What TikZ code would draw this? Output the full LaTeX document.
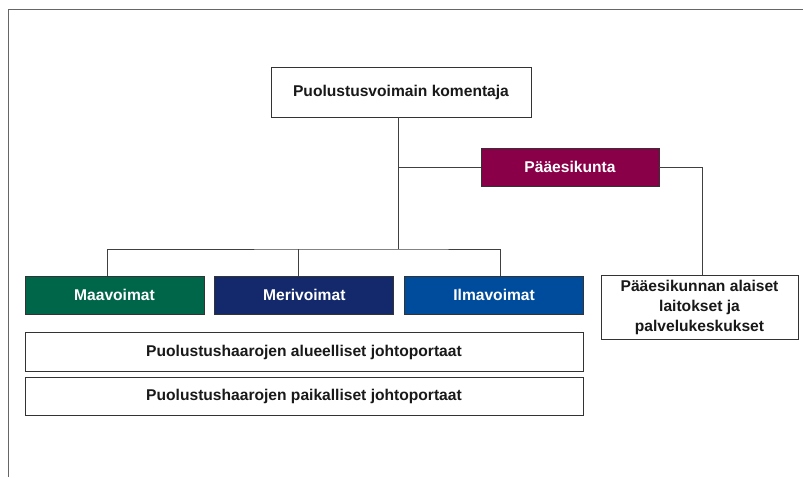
\documentclass[tikz,border=0pt]{standalone}
\usepackage{fontspec}
\setmainfont{Liberation Sans}
\usetikzlibrary{positioning}
\definecolor{pemaroon}{HTML}{8A0048}
\definecolor{maagreen}{HTML}{00664A}
\definecolor{merinavy}{HTML}{13296C}
\definecolor{ilmablue}{HTML}{004C9C}

\begin{document}
\begin{tikzpicture}[x=1pt,y=-1pt,font=\bfseries\fontsize{15.6}{20}\selectfont,
  unit/.style={draw=black!80,line width=0.8pt,align=center,inner sep=0pt,minimum width=179pt,minimum height=38pt,text=white},
  plain/.style={unit,fill=white,text=black!90},
  ln/.style={draw=black!75,line width=0.8pt}]
\useasboundingbox (0,0) rectangle (803,477);
\draw[black!60,line width=0.9pt] (8,477) |- (803,9);
% command chain
\node[plain,minimum width=260pt,minimum height=50pt] (cmdr) at (401,92) {Puolustusvoimain komentaja};
\node[unit,fill=pemaroon,minimum width=178pt] (pe) at (570,167) {Pääesikunta};
\node[plain,minimum width=197pt,minimum height=64pt] (laitokset) at (699.5,307) {Pääesikunnan alaiset\\laitokset ja\\palvelukeskukset};
% branches
\node[unit,fill=maagreen] (maa) at (114.5,295) {Maavoimat};
\node[unit,fill=merinavy,right=10pt of maa] (meri) {Merivoimat};
\node[unit,fill=ilmablue,right=10pt of meri] (ilma) {Ilmavoimat};
\node[plain,minimum width=558pt,minimum height=39pt,below right=18pt and 0pt of maa.south west] (alue) {Puolustushaarojen alueelliset johtoportaat};
\node[plain,minimum width=558pt,below=5pt of alue] (paik) {Puolustushaarojen paikalliset johtoportaat};
% connectors
\coordinate (haara) at (398,249);
\draw[ln] (cmdr.south -| haara) -- (haara);
\draw[ln] (haara |- pe.west) -- (pe.west);
\draw[ln] (pe.east) -| ([xshift=2.5pt]laitokset.north);
\draw[ln] ([xshift=-7.5pt]maa.north) |- (haara) -| ([xshift=6.5pt]ilma.north);
\draw[ln] ([xshift=-6pt]meri.north) -- ([xshift=-6pt]meri.north |- haara);
\end{tikzpicture}
\end{document}
